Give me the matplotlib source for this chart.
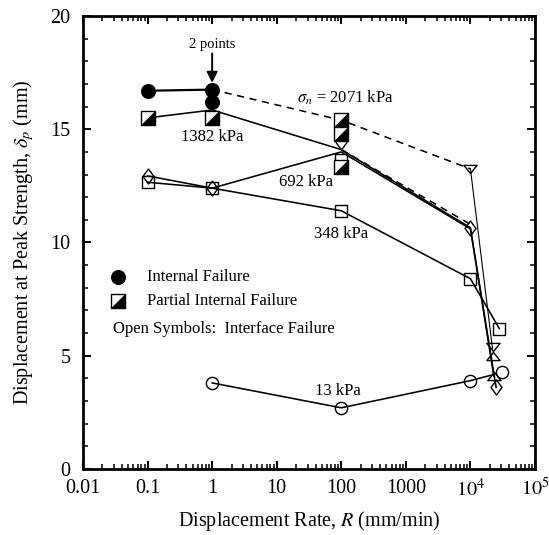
import matplotlib
matplotlib.use("Agg")
import matplotlib.pyplot as plt
from matplotlib.path import Path
from matplotlib.ticker import FixedLocator, FixedFormatter, LogLocator, NullFormatter, MultipleLocator

plt.rcParams['font.family'] = ['Liberation Serif', 'DejaVu Serif']
plt.rcParams['mathtext.fontset'] = 'stix'

# ---- connecting lines, one per normal stress ----
rate_int = [0.1, 1]
disp_int = [16.7, 16.75]

rate_2071 = [1, 100, 1e4]
disp_2071 = [16.75, 15.4, 13.25]
rate_2071_end = [1e4, 2.2e4]
disp_2071_end = [13.25, 5.3]
rate_2071_low = [100, 1e4]
disp_2071_low = [14.1, 10.8]

rate_1382 = [0.1, 1, 100, 1e4, 2.3e4]
disp_1382 = [15.5, 15.85, 14.1, 10.65, 4.1]

rate_692 = [0.1, 1, 100, 1e4, 2.5e4]
disp_692 = [12.94, 12.4, 14.0, 10.6, 3.6]

rate_348 = [0.1, 1, 100, 1e4, 2.8e4]
disp_348 = [12.66, 12.4, 11.4, 8.4, 6.2]

rate_13 = [1, 100, 1e4, 2.35e4]
disp_13 = [3.8, 2.7, 3.9, 4.18]

# ---- test results by failure mode ----
internal_rate = [0.1, 1, 1]
internal_disp = [16.7, 16.75, 16.2]

partial_rate = [0.1, 1, 100, 100, 100]
partial_disp = [15.5, 15.5, 15.4, 14.8, 13.35]

sq_rate = [0.1, 1, 100, 100, 1e4, 2.8e4]
sq_disp = [12.66, 12.4, 11.4, 13.65, 8.4, 6.2]

dm_rate = [0.1, 1, 100, 1e4, 2.5e4]
dm_disp = [12.94, 12.4, 14.45, 10.65, 3.6]

tdn_rate = [1e4, 2.2e4]
tdn_disp = [13.25, 5.4]

tup_rate = [2.2e4, 2.3e4]
tup_disp = [5.0, 4.1]

ci_rate = [1, 100, 1e4, 3.05e4]
ci_disp = [3.8, 2.7, 3.9, 4.3]

xtick_vals = [0.01, 0.1, 1, 10, 100, 1000, 1e4, 1e5]
xtick_text = ['0.01', '0.1', '1', '10', '100', '1000', r'$10^4$', r'$10^5$']

# custom marker shapes
sq_path = Path([(-1, -1), (1, -1), (1, 1), (-1, 1), (-1, -1)],
               [Path.MOVETO, Path.LINETO, Path.LINETO, Path.LINETO, Path.CLOSEPOLY])
half_path = Path([(-1, -1), (1, -1), (1, 1), (-1, -1)],
                 [Path.MOVETO, Path.LINETO, Path.LINETO, Path.CLOSEPOLY])
dm_path = Path([(0, 1), (0.73, 0), (0, -1), (-0.73, 0), (0, 1)],
               [Path.MOVETO, Path.LINETO, Path.LINETO, Path.LINETO, Path.CLOSEPOLY])
tdn_path = Path([(-1, 0.62), (1, 0.62), (0, -0.62), (-1, 0.62)],
                [Path.MOVETO, Path.LINETO, Path.LINETO, Path.CLOSEPOLY])
tup_path = Path([(-1, -0.62), (1, -0.62), (0, 0.62), (-1, -0.62)],
                [Path.MOVETO, Path.LINETO, Path.LINETO, Path.CLOSEPOLY])

fig = plt.figure(figsize=(5.49, 5.35), dpi=100)
ax = fig.add_axes([0.1512, 0.1234, 0.8233, 0.8467])
ax.set_xscale('log')
ax.set_xlim(0.01, 1e5)
ax.set_ylim(0, 20)

lw = 1.15
ax.plot(rate_int, disp_int, color='k', lw=1.6, zorder=2)
ax.plot(rate_2071, disp_2071, color='k', lw=lw, dashes=(4.5, 3.5), zorder=2)
ax.plot(rate_2071_end, disp_2071_end, color='k', lw=0.8, zorder=2)
ax.plot(rate_2071_low, disp_2071_low, color='k', lw=lw, dashes=(4.5, 3.5), zorder=2)
ax.plot(rate_1382, disp_1382, color='k', lw=lw, zorder=2)
ax.plot(rate_692, disp_692, color='k', lw=lw, zorder=2)
ax.plot(rate_348, disp_348, color='k', lw=lw, zorder=2)
ax.plot(rate_13, disp_13, color='k', lw=lw, zorder=2)

mew = 1.0
# open symbols (interface failure)
ax.plot(dm_rate, dm_disp, ls='none', marker=dm_path, ms=10.8, mfc='none', mec='k', mew=mew, zorder=3)
ax.plot(sq_rate, sq_disp, ls='none', marker=sq_path, ms=9.3, mfc='none', mec='k', mew=mew, zorder=3)
ax.plot(ci_rate, ci_disp, ls='none', marker='o', ms=8.8, mfc='none', mec='k', mew=mew, zorder=3)
ax.plot(tdn_rate, tdn_disp, ls='none', marker=tdn_path, ms=9.5, mfc='none', mec='k', mew=mew, zorder=3)
ax.plot(tup_rate, tup_disp, ls='none', marker=tup_path, ms=9.5, mfc='none', mec='k', mew=mew, zorder=3)

# partial internal failure: square with lower-right half filled
ax.plot(partial_rate, partial_disp, ls='none', marker=sq_path, ms=9.6, mfc='white', mec='k', mew=mew, zorder=4)
ax.plot(partial_rate, partial_disp, ls='none', marker=half_path, ms=9.6, mfc='k', mec='k', mew=0.6, zorder=5)

# internal failure: solid circles
ax.plot(internal_rate, internal_disp, ls='none', marker='o', ms=9.8, mfc='k', mec='k', zorder=5)

# in-plot key
ax.plot([0.035], [8.48], ls='none', marker='o', ms=9.8, mfc='k', mec='k', zorder=5)
ax.plot([0.035], [7.42], ls='none', marker=sq_path, ms=9.6, mfc='white', mec='k', mew=mew, zorder=5)
ax.plot([0.035], [7.42], ls='none', marker=half_path, ms=9.6, mfc='k', mec='k', mew=0.6, zorder=6)
ax.text(0.098, 8.48, 'Internal Failure', fontsize=12, va='center', ha='left')
ax.text(0.098, 7.42, 'Partial Internal Failure', fontsize=12, va='center', ha='left')
ax.text(0.029, 6.2, 'Open Symbols:  Interface Failure', fontsize=12, va='center', ha='left')

# stress labels
ax.text(20.6, 16.38, r'$\sigma_n$ = 2071 kPa', fontsize=12, va='center', ha='left')
ax.text(1.0, 14.66, '1382 kPa', fontsize=12, va='center', ha='center')
ax.text(28.4, 12.67, '692 kPa', fontsize=12, va='center', ha='center')
ax.text(100, 10.38, '348 kPa', fontsize=12, va='center', ha='center')
ax.text(90, 3.44, '13 kPa', fontsize=12, va='center', ha='center')

ax.text(1.0, 18.76, '2 points', fontsize=10.5, va='center', ha='center')
ax.annotate('', xy=(1.0, 17.05), xytext=(1.0, 18.35),
            arrowprops=dict(arrowstyle='-|>', lw=1.4, color='k', mutation_scale=16, shrinkA=0, shrinkB=0))

# axes styling
ax.xaxis.set_major_locator(FixedLocator(xtick_vals))
ax.xaxis.set_major_formatter(FixedFormatter(xtick_text))
ax.xaxis.set_minor_locator(LogLocator(base=10, subs=range(2, 10), numticks=20))
ax.xaxis.set_minor_formatter(NullFormatter())
ax.yaxis.set_major_locator(MultipleLocator(5))
ax.yaxis.set_minor_locator(MultipleLocator(1))

ax.tick_params(which='both', direction='in', top=True, right=True, labelsize=14.5)
ax.tick_params(which='major', length=6, width=1.4)
ax.tick_params(which='minor', length=3.3, width=1.1)
ax.tick_params(axis='y', which='major', pad=9)
ax.tick_params(axis='x', which='major', pad=7)
for s in ax.spines.values():
    s.set_linewidth(2.0)

ax.set_xlabel(r'Displacement Rate, $R$ (mm/min)', fontsize=14.5, labelpad=6)
ax.set_ylabel(r'Displacement at Peak Strength, $\delta_p$ (mm)', fontsize=14.5, labelpad=10)

fig.savefig('out.png', dpi=100)
